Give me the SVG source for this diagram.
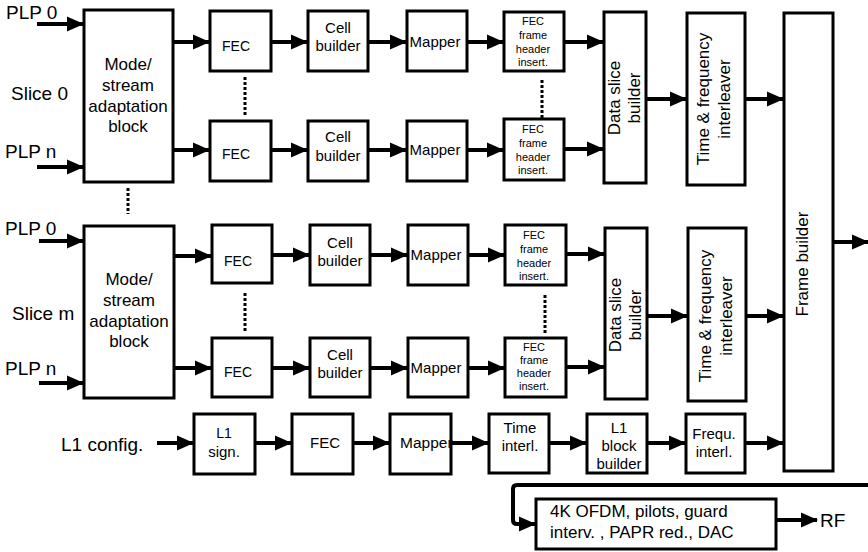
<svg xmlns="http://www.w3.org/2000/svg" width="868" height="552" viewBox="0 0 868 552">
<style>
.box{fill:#fff;stroke:#000;stroke-width:3}
.ln{fill:none;stroke:#000;stroke-width:4;marker-end:url(#ah)}
.dot{stroke:#000;stroke-width:3;stroke-dasharray:3 2}
text{font-family:"Liberation Sans",Arial,Helvetica,sans-serif;fill:#000}
.lab{font-size:19px}
.big{font-size:17px}
.m15{font-size:15px;text-anchor:middle}
.m14{font-size:14px;text-anchor:middle}
.m11{font-size:11px;text-anchor:middle}
.mid{text-anchor:middle}
</style>
<defs>
<marker id="ah" markerUnits="userSpaceOnUse" markerWidth="17" markerHeight="16" viewBox="0 0 17 16" refX="16" refY="8" orient="auto">
<path d="M0,0.5 L17,8 L0,15.5 z" fill="#000"/>
</marker>
</defs>
<rect width="868" height="552" fill="#fff"/>

<g id="labels">
<text class="lab" x="6" y="19">PLP 0</text>
<text class="lab" x="11" y="100">Slice 0</text>
<text class="lab" x="5" y="158">PLP n</text>
<text class="lab" x="5" y="235">PLP 0</text>
<text class="lab" x="12" y="320">Slice m</text>
<text class="lab" x="5" y="375">PLP n</text>
<text class="lab" x="61" y="451">L1 config.</text>
<text class="lab" x="820" y="527">RF</text>
</g>

<g id="connectors">
<line class="ln" x1="37" y1="24" x2="83" y2="24"/>
<line class="ln" x1="37" y1="167" x2="83" y2="167"/>
<line class="ln" x1="39" y1="241" x2="83" y2="241"/>
<line class="ln" x1="39" y1="383" x2="83" y2="383"/>

<line class="ln" x1="173" y1="42" x2="209" y2="42"/>
<line class="ln" x1="272" y1="42" x2="307" y2="42"/>
<line class="ln" x1="369" y1="42" x2="406" y2="42"/>
<line class="ln" x1="468" y1="42" x2="503" y2="42"/>
<line class="ln" x1="565" y1="42" x2="603" y2="42"/>

<line class="ln" x1="173" y1="150" x2="209" y2="150"/>
<line class="ln" x1="272" y1="150" x2="307" y2="150"/>
<line class="ln" x1="369" y1="150" x2="406" y2="150"/>
<line class="ln" x1="468" y1="150" x2="503" y2="150"/>
<line class="ln" x1="565" y1="149" x2="603" y2="149"/>

<line class="ln" x1="174" y1="256" x2="211" y2="256"/>
<line class="ln" x1="273" y1="255" x2="309" y2="255"/>
<line class="ln" x1="371" y1="255" x2="407" y2="255"/>
<line class="ln" x1="469" y1="255" x2="504" y2="255"/>
<line class="ln" x1="567" y1="254" x2="604" y2="254"/>

<line class="ln" x1="174" y1="368" x2="211" y2="368"/>
<line class="ln" x1="273" y1="368" x2="309" y2="368"/>
<line class="ln" x1="371" y1="368" x2="407" y2="368"/>
<line class="ln" x1="469" y1="368" x2="504" y2="368"/>
<line class="ln" x1="567" y1="367" x2="604" y2="367"/>

<line class="ln" x1="647" y1="99" x2="686" y2="99"/>
<line class="ln" x1="746" y1="99" x2="783" y2="99"/>
<line class="ln" x1="648" y1="316" x2="687" y2="316"/>
<line class="ln" x1="747" y1="316" x2="783" y2="316"/>

<line class="ln" x1="157" y1="443" x2="193" y2="443"/>
<line class="ln" x1="256" y1="443" x2="291" y2="443"/>
<line class="ln" x1="354" y1="443" x2="389" y2="443"/>
<line class="ln" x1="452" y1="443" x2="488" y2="443"/>
<line class="ln" x1="550" y1="443" x2="586" y2="443"/>
<line class="ln" x1="648" y1="443" x2="685" y2="443"/>
<line class="ln" x1="746" y1="443" x2="783" y2="443"/>

<line class="ln" x1="834" y1="242" x2="868" y2="242"/>
<path class="ln" d="M870,485 L517,485 Q513,485 513,489 L513,520 Q513,524 517,524 L535,524"/>
<line class="ln" x1="777" y1="520" x2="817" y2="520"/>

<line class="dot" x1="128" y1="188" x2="128" y2="214"/>
<line class="dot" x1="245" y1="77" x2="245" y2="117"/>
<line class="dot" x1="245" y1="293" x2="245" y2="333"/>
<line class="dot" x1="542" y1="80" x2="542" y2="118"/>
<line class="dot" x1="545" y1="295" x2="545" y2="334"/>
</g>

<g id="msab0"><rect class="box" x="84" y="10" width="89" height="172"/>
<text class="big mid" x="128" y="70">Mode/</text><text class="big mid" x="128" y="91">stream</text><text class="big mid" x="128" y="112">adaptation</text><text class="big mid" x="128" y="132">block</text></g>
<g id="msabm"><rect class="box" x="84" y="226" width="90" height="172"/>
<text class="big mid" x="129" y="285">Mode/</text><text class="big mid" x="129" y="306">stream</text><text class="big mid" x="129" y="327">adaptation</text><text class="big mid" x="129" y="347">block</text></g>

<g id="fec1"><rect class="box" x="210" y="11" width="61" height="60"/><text class="m14" x="236" y="51">FEC</text></g>
<g id="fec2"><rect class="box" x="210" y="121" width="61" height="60"/><text class="m14" x="236" y="159">FEC</text></g>
<g id="fec3"><rect class="box" x="212" y="225" width="60" height="58"/><text class="m14" x="238" y="266">FEC</text></g>
<g id="fec4"><rect class="box" x="212" y="338" width="60" height="59"/><text class="m14" x="238" y="377">FEC</text></g>

<g id="cell1"><rect class="box" x="308" y="11" width="60" height="60"/><text class="m15" x="338" y="33">Cell</text><text class="m15" x="338" y="51">builder</text></g>
<g id="cell2"><rect class="box" x="308" y="121" width="60" height="60"/><text class="m15" x="338" y="142">Cell</text><text class="m15" x="338" y="161">builder</text></g>
<g id="cell3"><rect class="box" x="310" y="225" width="60" height="60"/><text class="m15" x="340" y="248">Cell</text><text class="m15" x="340" y="266">builder</text></g>
<g id="cell4"><rect class="box" x="310" y="338" width="60" height="59"/><text class="m15" x="340" y="360">Cell</text><text class="m15" x="340" y="378">builder</text></g>

<g id="map1"><rect class="box" x="407" y="11" width="60" height="60"/><text class="m15" x="435" y="47">Mapper</text></g>
<g id="map2"><rect class="box" x="407" y="121" width="60" height="60"/><text class="m15" x="435" y="155">Mapper</text></g>
<g id="map3"><rect class="box" x="408" y="225" width="60" height="60"/><text class="m15" x="436" y="260">Mapper</text></g>
<g id="map4"><rect class="box" x="408" y="338" width="60" height="59"/><text class="m15" x="436" y="373">Mapper</text></g>

<g id="ffh1"><rect class="box" x="504" y="12" width="60" height="59"/><text class="m11" x="533" y="25">FEC</text><text class="m11" x="533" y="39">frame</text><text class="m11" x="533" y="53">header</text><text class="m11" x="533" y="66">insert.</text></g>
<g id="ffh2"><rect class="box" x="504" y="119" width="60" height="61"/><text class="m11" x="533" y="133">FEC</text><text class="m11" x="533" y="147">frame</text><text class="m11" x="533" y="161">header</text><text class="m11" x="533" y="174">insert.</text></g>
<g id="ffh3"><rect class="box" x="505" y="225" width="61" height="60"/><text class="m11" x="534" y="239">FEC</text><text class="m11" x="534" y="253">frame</text><text class="m11" x="534" y="267">header</text><text class="m11" x="534" y="280">insert.</text></g>
<g id="ffh4"><rect class="box" x="505" y="338" width="61" height="59"/><text class="m11" x="534" y="351">FEC</text><text class="m11" x="534" y="364">frame</text><text class="m11" x="534" y="377">header</text><text class="m11" x="534" y="390">insert.</text></g>

<g id="dsb1"><rect class="box" x="604" y="12" width="42" height="171"/>
<text class="big mid" transform="translate(620,98) rotate(-90)">Data slice</text><text class="big mid" transform="translate(640,98) rotate(-90)">builder</text></g>
<g id="dsb2"><rect class="box" x="605" y="228" width="42" height="171"/>
<text class="big mid" transform="translate(621,315) rotate(-90)">Data slice</text><text class="big mid" transform="translate(641,315) rotate(-90)">builder</text></g>

<g id="tfi1"><rect class="box" x="687" y="13" width="58" height="172"/>
<text class="big mid" transform="translate(709,99) rotate(-90)">Time &amp; frequency</text><text class="big mid" transform="translate(730,99) rotate(-90)">interleaver</text></g>
<g id="tfi2"><rect class="box" x="688" y="228" width="58" height="173"/>
<text class="big mid" transform="translate(711,316) rotate(-90)">Time &amp; frequency</text><text class="big mid" transform="translate(732,316) rotate(-90)">interleaver</text></g>

<g id="fb"><rect class="box" x="784" y="13" width="49" height="458"/>
<text class="big mid" transform="translate(808,264) rotate(-90)">Frame builder</text></g>

<g id="l1sign"><rect class="box" x="194" y="414" width="61" height="60"/><text class="m14" x="224" y="438">L1</text><text class="m15" x="224" y="457">sign.</text></g>
<g id="l1fec"><rect class="box" x="292" y="414" width="61" height="60"/><text class="m15" x="325" y="448">FEC</text></g>
<g id="l1map"><rect class="box" x="390" y="414" width="61" height="60"/><text x="400" y="448" style="font-size:15.5px">Mapper</text></g>
<g id="l1ti"><rect class="box" x="489" y="414" width="60" height="59"/><text class="m15" x="520" y="433">Time</text><text class="m15" x="520" y="451">interl.</text></g>
<g id="l1bb"><rect class="box" x="587" y="414" width="60" height="59"/><text class="m15" x="619" y="433">L1</text><text class="m15" x="619" y="451">block</text><text class="m15" x="619" y="469">builder</text></g>
<g id="l1fi"><rect class="box" x="686" y="414" width="59" height="59"/><text class="m15" x="714" y="439">Frequ.</text><text class="m15" x="714" y="457">interl.</text></g>

<g id="ofdm"><rect class="box" x="536" y="499" width="240" height="50"/>
<text class="big" x="550" y="517">4K OFDM, pilots, guard</text><text class="big" x="550" y="538">interv. , PAPR red., DAC</text></g>
</svg>
